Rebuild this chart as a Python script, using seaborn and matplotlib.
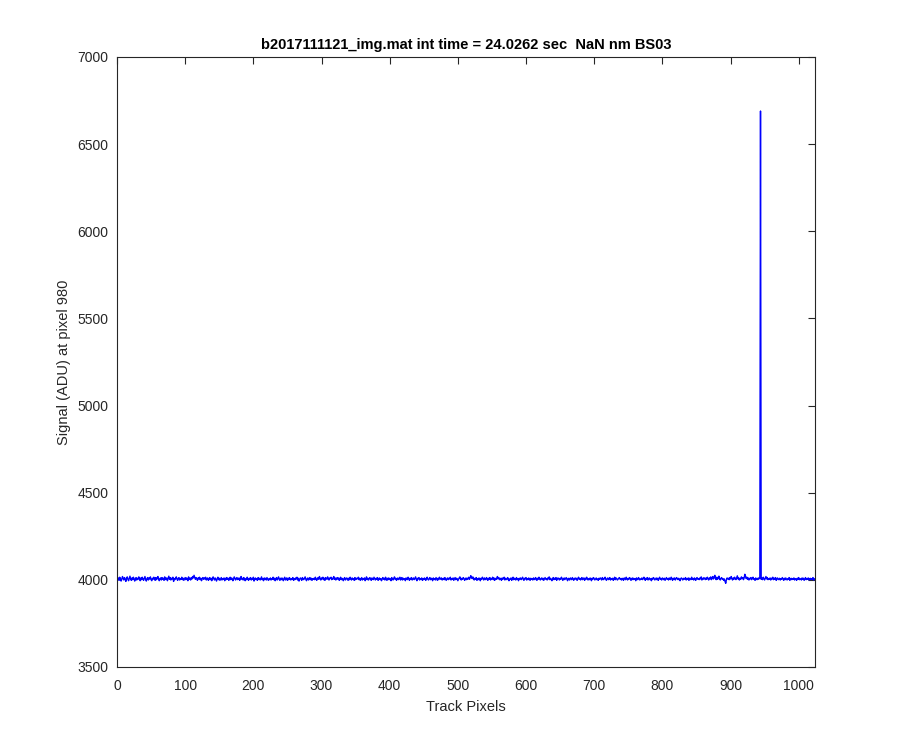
import numpy as np
import pandas as pd
import matplotlib
matplotlib.use('Agg')
import matplotlib.pyplot as plt
import seaborn as sns

# Signal read along the track (ADU), one value per pixel 1..1024
signal = [
    4001, 4011, 3997, 4015, 4007, 3993, 4003, 4019, 4009, 3999, 4013, 4005, 3991, 4007, 4017, 4003, 3995, 4009, 4021, 4005, 3997, 4011, 4001, 4015, 4007, 3993, 4005, 4013, 3999, 4009, 4003, 4017,
    4007, 3995, 4011, 4001, 4015, 4005, 3997, 4009, 4019, 4003, 3993, 4007, 4013, 3999, 4011, 4005, 4017, 4001, 3995, 4009, 4003, 4015, 4007, 3997, 4013, 4001, 4009, 4019, 4005, 3995, 4007, 4011,
    3999, 4013, 4003, 4009, 3997, 4017, 4005, 4001, 4011, 3995, 4007, 4021, 4003, 4013, 3999, 4009, 4005, 4015, 3991, 4007, 4001, 4011, 4017, 4003, 3997, 4009, 4013, 3999, 4007, 4003, 4015, 4001,
    4009, 3997, 4005, 4013, 4001, 4011, 4007, 3995, 4017, 4003, 4009, 3999, 4013, 4005, 4019, 4011, 4026, 4015, 4003, 4013, 4007, 3997, 4011, 4005, 4015, 4001, 4009, 3995, 4007, 4013, 4003, 4011,
    4005, 4015, 3999, 4007, 4011, 3997, 4003, 4013, 4001, 4009, 3995, 4005, 4017, 4007, 3999, 4011, 4003, 3993, 4007, 4015, 4001, 4009, 3997, 4005, 4013, 3999, 4007, 4003, 4011, 3995, 4009, 4001,
    4013, 4003, 4009, 3997, 4005, 4015, 4001, 4011, 4007, 3995, 4003, 4017, 4009, 3999, 4007, 4013, 4001, 4005, 4011, 3997, 4007, 4019, 4003, 4009, 3999, 4013, 4005, 3995, 4007, 4001, 4015, 4003,
    3997, 4009, 4005, 4013, 3999, 4007, 4003, 4015, 3993, 4005, 4011, 4001, 4007, 3997, 4013, 4003, 4009, 3999, 4005, 4017, 4001, 4007, 3995, 4011, 4003, 4009, 3999, 4013, 4005, 3997, 4007, 4001,
    4011, 3999, 4007, 4003, 4015, 4001, 4009, 3995, 4005, 4013, 3999, 4007, 4017, 4003, 3997, 4009, 4001, 4011, 4005, 3995, 4007, 4015, 3999, 4003, 4011, 3997, 4009, 4001, 4013, 4005, 3999, 4007,
    4003, 4013, 3997, 4007, 4001, 4011, 4005, 4015, 3999, 4009, 3993, 4003, 4011, 4007, 3997, 4013, 4005, 4001, 4009, 4017, 4003, 3995, 4007, 4011, 3999, 4005, 4013, 4001, 4009, 3997, 4007, 4003,
    4009, 4001, 4015, 4005, 3997, 4007, 4013, 4003, 4019, 4007, 3999, 4011, 4005, 4015, 4001, 4009, 3997, 4013, 4007, 4003, 4017, 4005, 3999, 4011, 4007, 4015, 4001, 4009, 4005, 4019, 4003, 4011,
    3999, 4007, 4013, 4003, 4011, 3997, 4005, 4015, 4001, 4009, 4005, 3995, 4007, 4013, 3999, 4003, 4011, 4007, 3997, 4009, 4001, 4015, 4005, 3999, 4011, 4003, 4007, 3997, 4013, 4001, 4009, 4005,
    4007, 4015, 4001, 4009, 3997, 4005, 4013, 3999, 4007, 4003, 4011, 3995, 4005, 4017, 4001, 4009, 3999, 4007, 4013, 4003, 3997, 4011, 4005, 4001, 4015, 4007, 3999, 4009, 4003, 4013, 3997, 4005,
    4011, 4001, 4007, 3995, 4005, 4013, 4003, 4009, 3999, 4015, 4005, 3997, 4007, 4011, 4001, 4009, 4003, 3995, 4013, 4005, 3999, 4007, 4017, 4003, 4009, 3997, 4005, 4011, 4001, 4007, 4015, 3999,
    4005, 4013, 3999, 4009, 4003, 4007, 3995, 4011, 4005, 4001, 4015, 4007, 3997, 4009, 4003, 4013, 3999, 4005, 4011, 4001, 4007, 4017, 4003, 3995, 4009, 4005, 4013, 3999, 4007, 4003, 4011, 3997,
    4007, 4001, 4011, 4005, 3997, 4009, 4015, 4003, 3999, 4007, 4013, 4001, 4009, 4005, 3995, 4011, 4003, 4007, 3999, 4013, 4005, 3997, 4009, 4001, 4015, 4007, 4003, 4011, 3999, 4005, 4009, 4001,
    4013, 4003, 3997, 4007, 4011, 4001, 4009, 4005, 4015, 3999, 4007, 4003, 4011, 3997, 4005, 4013, 4001, 4009, 4007, 3995, 4003, 4011, 4017, 4005, 3999, 4009, 4003, 4013, 4007, 3997, 4005, 4011,
    4001, 4009, 4005, 4015, 4003, 4011, 4024, 4013, 4007, 4017, 4005, 3999, 4009, 4003, 4013, 3997, 4007, 4001, 4011, 4005, 3995, 4009, 4003, 4015, 4007, 3999, 4011, 4005, 4001, 4013, 4007, 3997,
    4009, 4003, 4013, 3999, 4007, 4005, 4015, 4001, 4011, 3997, 4005, 4009, 4003, 4019, 4007, 4013, 4001, 4009, 4005, 3997, 4011, 4003, 4007, 4015, 3999, 4009, 4005, 4001, 4013, 4007, 3995, 4005,
    4003, 4011, 3997, 4007, 4015, 4001, 4009, 4005, 3999, 4013, 4003, 4007, 3995, 4009, 4005, 4011, 4001, 4007, 4015, 4003, 3997, 4009, 4005, 4013, 3999, 4007, 4001, 4011, 4005, 3997, 4009, 4003,
    4007, 3999, 4011, 4005, 4001, 4013, 4007, 3997, 4009, 4003, 4015, 4005, 3999, 4007, 4011, 4001, 4009, 3997, 4005, 4013, 4003, 4007, 3999, 4011, 4005, 4017, 4001, 4009, 4003, 3995, 4007, 4013,
    4001, 4009, 4003, 4013, 3997, 4007, 4011, 4005, 3999, 4009, 4003, 4015, 4007, 3997, 4005, 4011, 4001, 4007, 4013, 4003, 3995, 4009, 4005, 3999, 4011, 4007, 4001, 4013, 4005, 3997, 4009, 4003,
    4011, 4005, 3997, 4007, 4015, 4003, 4009, 3999, 4005, 4013, 4001, 4007, 4011, 3997, 4009, 4003, 4015, 4005, 3999, 4007, 4001, 4011, 4005, 3995, 4009, 4003, 4013, 4007, 3999, 4005, 4011, 4001,
    4005, 3997, 4009, 4003, 4011, 4007, 3999, 4013, 4005, 4001, 4009, 4015, 4003, 3997, 4007, 4011, 4001, 4005, 4013, 3999, 4007, 4003, 4009, 3997, 4005, 4015, 4001, 4011, 4007, 3999, 4003, 4009,
    4013, 4003, 4007, 3999, 4009, 4005, 3997, 4011, 4007, 4001, 4015, 4005, 3999, 4009, 4003, 4013, 4007, 3997, 4005, 4011, 4001, 4009, 4003, 4007, 3995, 4011, 4005, 4001, 4013, 4007, 3999, 4005,
    4003, 4011, 4001, 4007, 4015, 4005, 3997, 4009, 4003, 4013, 3999, 4007, 4011, 4001, 4005, 3995, 4009, 4003, 4013, 4007, 3999, 4005, 4011, 4001, 4009, 3997, 4007, 4015, 4003, 4005, 3999, 4011,
    4007, 4001, 4009, 3997, 4005, 4013, 4003, 4007, 3999, 4011, 4005, 4001, 4015, 4007, 3997, 4009, 4003, 4011, 3999, 4007, 4013, 4005, 4001, 4009, 4003, 3995, 4007, 4011, 4005, 3999, 4009, 4003,
    4005, 4013, 3999, 4007, 4003, 4011, 3997, 4009, 4005, 4001, 4015, 4003, 4007, 3999, 4011, 4005, 3997, 4009, 4013, 4003, 4007, 4001, 4011, 4005, 4017, 3999, 4009, 4003, 4013, 4007, 4001, 4011,
    4003, 4015, 4007, 3999, 4011, 4005, 4017, 4001, 4009, 4019, 4005, 4013, 4026, 4007, 4001, 4015, 4003, 4011, 4021, 4005, 3999, 4009, 4013, 4003, 4007, 3997, 4005, 3990, 3980, 4001, 4011, 4005,
    4009, 4001, 4013, 4005, 4019, 4007, 3999, 4011, 4003, 4015, 4007, 4001, 4013, 4023, 4005, 4011, 3999, 4009, 4003, 4017, 4007, 4013, 4001, 4011, 4032, 4021, 4007, 4015, 4003, 4011, 3999, 4009,
    4005, 4013, 4001, 4009, 4015, 4003, 4007, 3997, 4011, 4005, 4001, 4009, 4003, 4013, 4007, 6690, 4003, 4011, 4001, 4015, 4007, 3999, 4009, 4019, 4005, 4013, 4001, 4007, 4003, 4011, 3999, 4009,
    4005, 4015, 4001, 4009, 4003, 4013, 3997, 4007, 4011, 4001, 4005, 4009, 3999, 4007, 4003, 4013, 4005, 3997, 4009, 4001, 4011, 4005, 3999, 4007, 4003, 4013, 3997, 4005, 4009, 4001, 4007, 4003,
    4011, 3999, 4007, 4005, 3997, 4009, 4003, 4013, 4001, 4007, 4005, 3999, 4011, 4003, 4009, 3997, 4005, 4013, 4001, 4007, 4003, 4011, 3999, 4005, 4009, 4001, 4007, 4003, 4013, 3999, 4005, 4007,
]
pixels = np.arange(1, len(signal) + 1)

x_ticks = list(range(0, 1001, 100))
y_ticks = list(range(3500, 7001, 500))

title = 'b2017111121_img.mat int time = 24.0262 sec  NaN nm BS03'

df = pd.DataFrame({'pixel': pixels, 'signal': signal})

sns.set_style('white')
plt.rcParams['font.family'] = ['Liberation Sans', 'DejaVu Sans']

axis_color = '#262626'

fig = plt.figure(figsize=(9, 7.5), dpi=100)
ax = fig.add_axes([0.13, 0.1107, 0.7756, 0.8133])

sns.lineplot(data=df, x='pixel', y='signal', ax=ax, color='blue', lw=1.0, estimator=None)

ax.set_xlim(0, 1024)
ax.set_ylim(3500, 7000)
ax.set_xticks(x_ticks)
ax.set_yticks(y_ticks)
ax.tick_params(direction='in', top=True, right=True, length=5, width=0.8,
               colors=axis_color, labelsize=10)
ax.tick_params(axis='x', pad=9)
ax.tick_params(axis='y', pad=6)
for sp in ax.spines.values():
    sp.set_visible(True)
    sp.set_color(axis_color)
    sp.set_linewidth(0.8)

ax.set_xlabel('Track Pixels', fontsize=10.5, color=axis_color, labelpad=5)
ax.set_ylabel('Signal (ADU) at pixel 980', fontsize=10.5, color=axis_color, labelpad=5)
ax.set_title(title, fontsize=10.5, fontweight='bold', color='black', pad=6)

fig.savefig('out.png', dpi=100, facecolor='white')
